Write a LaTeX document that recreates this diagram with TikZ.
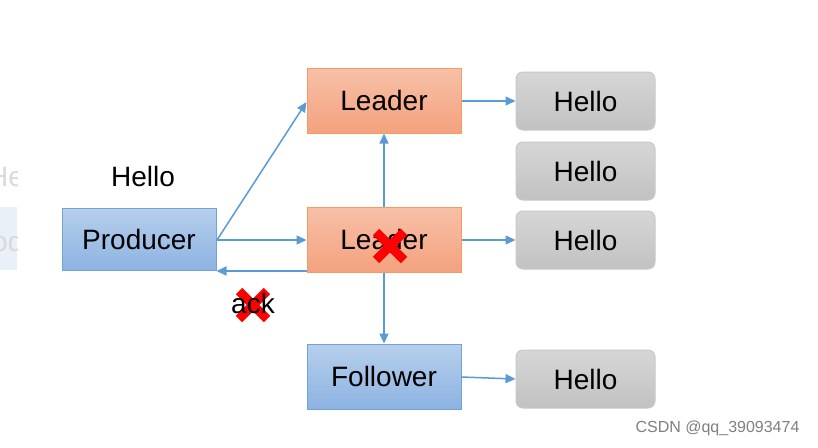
\documentclass[tikz,border=0pt]{standalone}
\usepackage{fontspec}
\setmainfont{Liberation Sans}
\usetikzlibrary{arrows.meta}
\definecolor{arr}{HTML}{5B9BD5}
\definecolor{bluetop}{HTML}{B6CFEC}
\definecolor{bluebot}{HTML}{8DB3E2}
\definecolor{blueedge}{HTML}{6FA3DA}
\definecolor{orgtop}{HTML}{F7C0A7}
\definecolor{orgbot}{HTML}{F4A27E}
\definecolor{orgedge}{HTML}{F39A6A}
\definecolor{graytop}{HTML}{D6D6D6}
\definecolor{graybot}{HTML}{C2C2C2}
\definecolor{grayedge}{HTML}{C9C9C9}
\definecolor{fadebox}{HTML}{EAF0F8}
\begin{document}
\begin{tikzpicture}[x=1pt,y=-1pt,
  txt/.style={font=\fontsize{28}{32}\selectfont,text=black},
  bluebox/.style={txt,draw=blueedge,line width=1pt,top color=bluetop,bottom color=bluebot,minimum width=154pt,minimum height=62pt,inner sep=0pt},
  orgbox/.style={txt,draw=orgedge,line width=1pt,top color=orgtop,bottom color=orgbot,minimum width=154pt,minimum height=65pt,inner sep=0pt},
  graybox/.style={txt,draw=grayedge,line width=1pt,top color=graytop,bottom color=graybot,rounded corners=7pt,minimum width=139pt,minimum height=58pt,inner sep=0pt},
  conn/.style={draw=arr,line width=1.5pt,-{Triangle[length=10pt,width=9pt]}},
  redx/.style={draw=red,line width=9pt}
]
\useasboundingbox[fill=white] (0,0) rectangle (818,447);
% faded left fragments
\begin{scope}
\clip (0,150) rectangle (17,275);
\fill[fill=fadebox] (-140,207) rectangle (17,270);
\node[txt,text=black!15,anchor=west,inner sep=0pt] (fp) at (-36,241) {Producer};
\node[txt,text=black!15,anchor=west,inner sep=0pt] (fh) at (-12,176) {Hello};
\end{scope}
% nodes
\node[txt] (hlab) at (143,176) {Hello};
\node[bluebox] (prod) at (139,239) {Producer};
\node[orgbox] (lead1) at (384,100.5) {Leader};
\node[orgbox] (lead2) at (384,239.5) {Leader};
\node[bluebox,minimum height=65pt] (foll) at (384,376.5) {Follower};
\node[graybox] (h1) at (585.5,101) {Hello};
\node[graybox] (h2) at (585.5,171) {Hello};
\node[graybox] (h3) at (585.5,240) {Hello};
\node[graybox] (h4) at (585.5,379) {Hello};
% connectors
\coordinate (ps) at (217,240);
\draw[conn] (ps) -- (lead1.south west |- 0,102);
\draw[conn] (ps) -- (lead2.west |- 0,240);
\draw[conn] (lead2.south west |- 0,271) -- (prod.east |- 0,271);
\draw[conn] (lead2.north) -- (lead1.south);
\draw[conn] (lead2.south) -- (foll.north);
\draw[conn] (lead1.east |- 0,101) -- (h1.west |- 0,101);
\draw[conn] (lead2.east |- 0,240) -- (h3.west |- 0,240);
\draw[conn] (foll.east |- 0,377) -- (h4.west |- 0,379);
% red crosses
\draw[redx] (376,232) -- (404,260) (404,232) -- (376,260);
\draw[redx] (239,291) -- (267,319) (267,291) -- (239,319);
\node[txt] (ack) at (253,303) {ack};
% watermark
\node[font=\fontsize{16}{18}\selectfont,text=black!50,anchor=east] (wm) at (803,428) {CSDN @qq\_39093474};
\end{tikzpicture}
\end{document}
